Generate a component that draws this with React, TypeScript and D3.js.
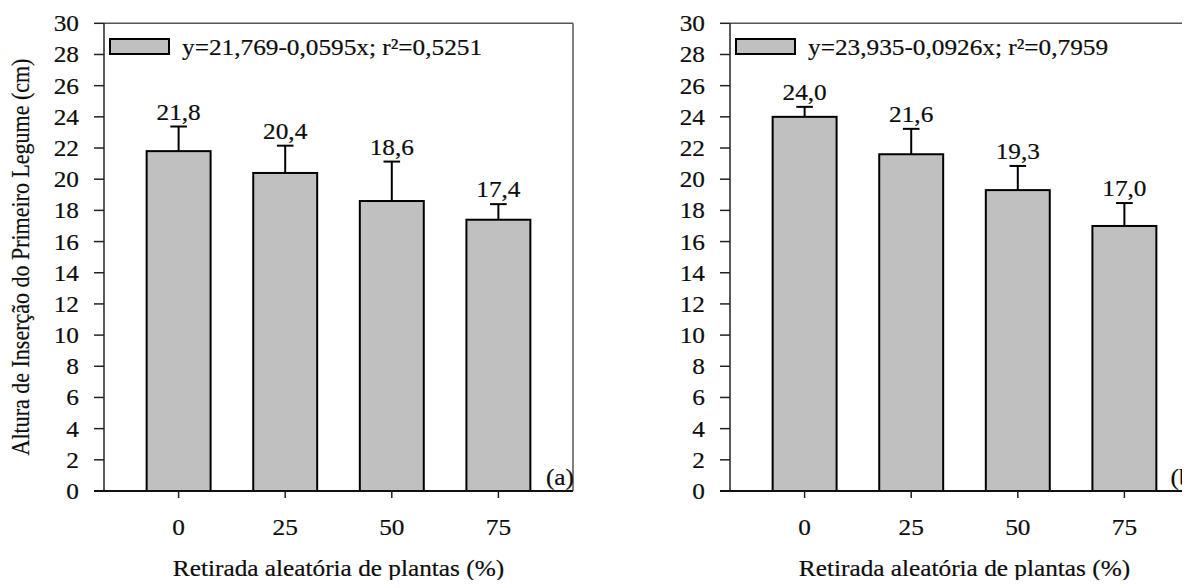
import React from "react";
import * as d3 from "d3";

// Treatment levels (% of plants randomly removed)
const levels = [0, 25, 50, 75];
const xTicks = ["0", "25", "50", "75"];
const yTicks = [0, 2, 4, 6, 8, 10, 12, 14, 16, 18, 20, 22, 24, 26, 28, 30];

// Panel (a)
const meansA = [21.8, 20.4, 18.6, 17.4];
const upperA = [23.38, 22.15, 21.13, 18.4];
const labelsA = ["21,8", "20,4", "18,6", "17,4"];
const equationA = "y=21,769-0,0595x; r²=0,5251";

// Panel (b)
const meansB = [24.0, 21.6, 19.3, 17.0];
const upperB = [24.64, 23.23, 20.85, 18.47];
const labelsB = ["24,0", "21,6", "19,3", "17,0"];
const equationB = "y=23,935-0,0926x; r²=0,7959";

const FONT = "'Liberation Serif', 'Times New Roman', serif";
const SX = 1.1;
const FS = 23;

const top = 23.3;
const bottom = 491;
const plotW = 469;

function T({ x, y, anchor = "start", size = FS, children }: any) {
  return (
    <g transform={`translate(${x},${y}) scale(${SX},1)`}>
      <text
        textAnchor={anchor}
        fontFamily={FONT}
        fontSize={size}
        fill="#0d0d0d"
        stroke="#0d0d0d"
        strokeWidth={0.2}
      >
        {children}
      </text>
    </g>
  );
}

function Panel({ left, means, upper, labels, equation, tag }: any) {
  const x = d3.scaleLinear().domain([-17.5, 92.5]).range([left, left + plotW]);
  const y = d3.scaleLinear().domain([0, 30]).range([bottom, top]);
  const halfW = 7.5;
  const capHalf = 8.3;
  return (
    <g>
      {/* frame */}
      <line x1={left} x2={left + plotW} y1={top} y2={top} stroke="#555" strokeWidth={1.5} />
      <line x1={left + plotW} x2={left + plotW} y1={top} y2={bottom} stroke="#555" strokeWidth={1.5} />
      {/* bars with upper error bars and value labels */}
      {levels.map((lv, i) => (
        <g key={lv}>
          <line x1={x(lv)} x2={x(lv)} y1={y(means[i])} y2={y(upper[i])} stroke="#000" strokeWidth={2} />
          <line x1={x(lv) - capHalf} x2={x(lv) + capHalf} y1={y(upper[i])} y2={y(upper[i])} stroke="#000" strokeWidth={2} />
          <rect
            x={x(lv - halfW)}
            y={y(means[i])}
            width={x(lv + halfW) - x(lv - halfW)}
            height={y(0) - y(means[i])}
            fill="#c0c0c0"
            stroke="#000"
            strokeWidth={2}
          />
          <T x={x(lv)} y={y(upper[i]) - 7} anchor="middle">{labels[i]}</T>
        </g>
      ))}
      {/* y axis */}
      <line x1={left} x2={left} y1={top} y2={bottom} stroke="#222" strokeWidth={1.5} />
      {yTicks.map((t) => (
        <g key={t}>
          <line x1={left - 10} x2={left} y1={y(t)} y2={y(t)} stroke="#222" strokeWidth={1.5} />
          <T x={left - 25} y={y(t) + 8} anchor="end">{String(t)}</T>
        </g>
      ))}
      {/* x axis */}
      <line x1={left - 10} x2={left + plotW} y1={bottom} y2={bottom} stroke="#111" strokeWidth={2} />
      {levels.map((lv, i) => (
        <g key={lv}>
          <line x1={x(lv)} x2={x(lv)} y1={bottom} y2={bottom + 7} stroke="#222" strokeWidth={1.5} />
          <T x={x(lv)} y={535} anchor="middle">{xTicks[i]}</T>
        </g>
      ))}
      {/* legend */}
      <rect x={left + 6} y={39} width={59} height={15} fill="#c0c0c0" stroke="#000" strokeWidth={2} />
      <T x={left + 78} y={55}>{equation}</T>
      {/* panel tag */}
      <T x={left + plotW + 1} y={485} anchor="end">{tag}</T>
      {/* x title */}
      <T x={left + plotW / 2} y={576} anchor="middle">Retirada aleatória de plantas (%)</T>
    </g>
  );
}

export default function App() {
  return (
    <div style={{ margin: -8, width: 1190, height: 588, overflow: "hidden" }}>
      <svg width={1190} height={588} style={{ display: "block", background: "#fff" }}>
        <Panel left={104} means={meansA} upper={upperA} labels={labelsA} equation={equationA} tag="(a)" />
        <Panel left={730} means={meansB} upper={upperB} labels={labelsB} equation={equationB} tag="(b)" />
        <g transform={`translate(29,257) scale(${SX},1) rotate(-90)`}>
          <text
            textAnchor="middle"
            fontFamily={FONT}
            fontSize={22}
            fill="#0d0d0d"
            stroke="#0d0d0d"
            strokeWidth={0.2}
          >
            Altura de Inserção do Primeiro Legume (cm)
          </text>
        </g>
      </svg>
    </div>
  );
}
